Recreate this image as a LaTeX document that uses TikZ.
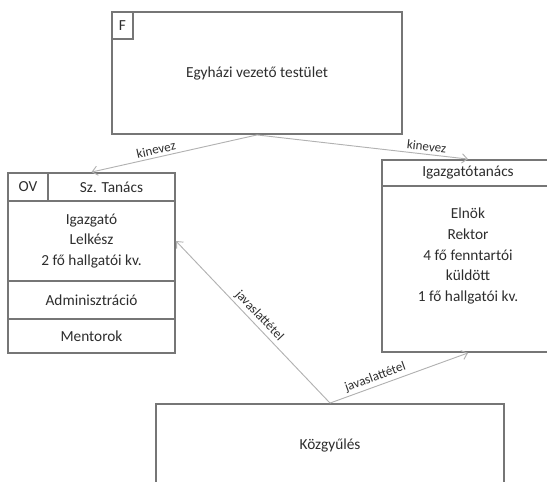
\documentclass[tikz,border=0pt]{standalone}
\usepackage{fontspec}
\setmainfont{Carlito}
\usetikzlibrary{arrows.meta}
\definecolor{boxline}{RGB}{118,118,118}
\definecolor{arrowline}{RGB}{178,178,178}
\definecolor{textdark}{RGB}{45,45,45}
\def\pxl{0.75pt}

\begin{document}
\begin{tikzpicture}[x=0.75pt, y=-0.75pt,
  cell/.style={draw=boxline, line width=1.4pt, inner sep=0pt, align=center,
    text=textdark, font=\fontsize{11.5}{15.4}\selectfont},
  size/.style 2 args={minimum width=#1*\pxl, minimum height=#2*\pxl},
  link/.style={draw=arrowline, line width=0.7pt,
    -{Straight Barb[length=4pt,width=7pt]}},
  linklabel/.style={font=\fontsize{9.8}{11}\selectfont, text=textdark,
    sloped, above, inner sep=2pt}]
% frame of the page (boxes on the right and bottom run off it)
\clip (0,0) rectangle (547,482);
% governing body with its tag
\node[cell, size={290}{122}] (fbox) at (257,73) {Egyházi vezető testület};
\node[cell, size={21}{27}] (ftag) at (122.5,25.5) {F};
% left council: outer frame, then its cells
\node[cell, size={167}{180}] (sztanacs) at (91.5,263) {};
\node[cell, size={40}{28}] (ov) at (28,187) {OV};
\node[cell, size={127}{28}] (szt) at (111.5,187) {Sz. Tanács};
\node[cell, size={167}{80}] (lmain) at (91.5,241)
  {Igazgató\\Lelkész\\2 fő hallgatói kv.};
\node[cell, size={167}{38}] (admin) at (91.5,300) {Adminisztráció};
\node[cell, size={167}{34}] (mentor) at (91.5,336) {Mentorok};
% board of directors, header on top
\node[cell, size={172}{192}] (igtan) at (468,256)
  {Elnök\\Rektor\\4 fő fenntartói\\küldött\\1 fő hallgatói kv.};
\node[cell, size={172}{26}] (igt) at (468,173) {Igazgatótanács};
% general assembly
\node[cell, size={348}{82}] (kozgy) at (330,445) {Közgyűlés};
% appointments and proposals
\draw[link] (fbox.south) -- node[linklabel, pos=0.6] {kinevez} (sztanacs.north);
\draw[link] (fbox.south) -- node[linklabel, pos=0.8] {kinevez} (igtan.north);
\draw[link] (kozgy.north) -- node[linklabel, pos=0.5] {javaslattétel} (lmain.east);
\draw[link] (kozgy.north) -- node[linklabel, pos=0.35] {javaslattétel} (igtan.south);
\end{tikzpicture}
\end{document}
